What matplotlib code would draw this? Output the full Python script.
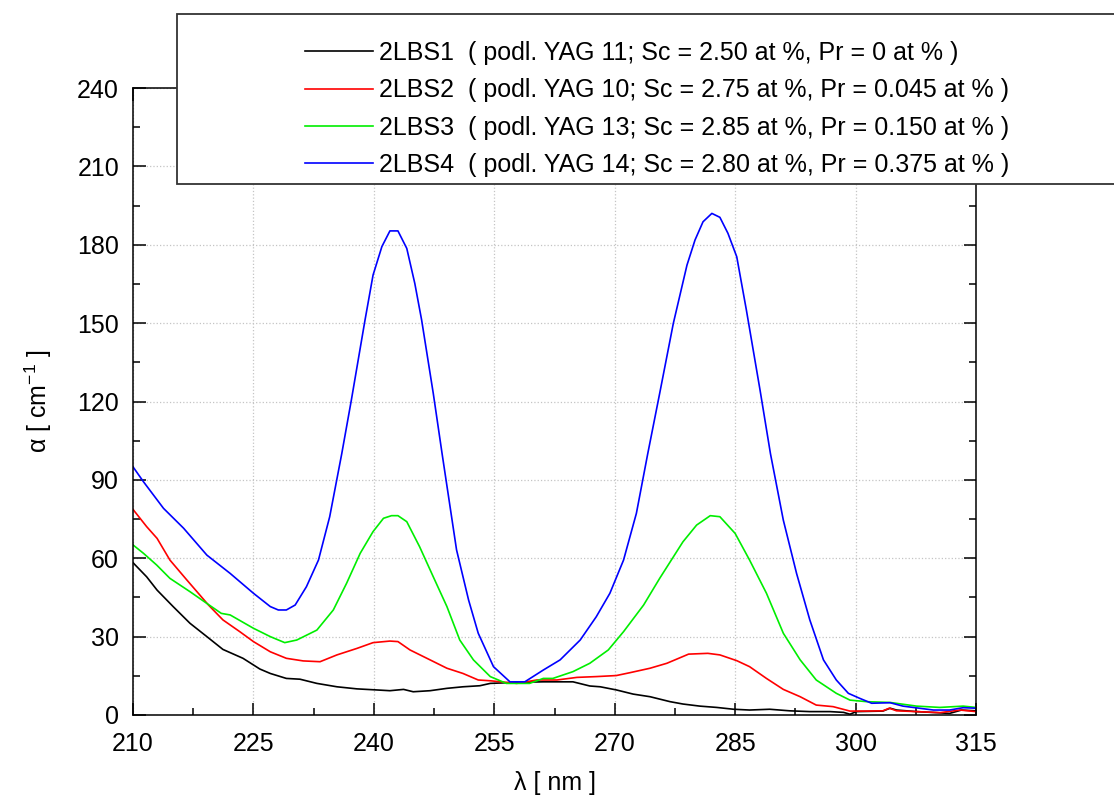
import matplotlib
matplotlib.use("Agg")
import matplotlib.pyplot as plt
from matplotlib.patches import Rectangle
from matplotlib.ticker import MultipleLocator

plt.rcParams['font.family'] = ['Liberation Sans', 'DejaVu Sans']
plt.rcParams['mathtext.default'] = 'regular'

# 2LBS1
x1 = [210, 211.7, 213, 215, 217.1, 219.2, 221.2, 223.7, 225.8, 227.1, 229.1, 230.8, 232.9, 235.4,
      237.9, 240.3, 242, 243.7, 244.9, 247, 249.1, 251.1, 253.2, 254.5, 257.8, 261.1, 264.8, 266.9,
      268.2, 270.2, 272.3, 274.4, 276.9, 278.5, 280.6, 282.7, 284.8, 286.8, 289.3, 291.8, 294.3,
      296.8, 298.5, 299.3, 300.1, 303.4, 304.3, 305.1, 307.6, 310.1, 311.7, 313.2, 315]
y1 = [58.3, 52.9, 47.8, 41.5, 35.1, 30, 25.1, 21.7, 17.6, 15.9, 14, 13.7, 12.1, 10.8,
      10, 9.6, 9.3, 9.8, 8.9, 9.3, 10.2, 10.8, 11.2, 12.1, 12.5, 12.7, 12.7, 11.1,
      10.8, 9.6, 8, 7, 5.1, 4.2, 3.4, 2.9, 2.2, 1.9, 2.2, 1.6, 1.3,
      1.3, 1, 0.3, 1.3, 1.5, 2.6, 1.9, 1.3, 0.9, 0.6, 1.9, 1.6]

# 2LBS2
x2 = [210, 211.7, 213, 214.6, 216.7, 219.4, 221.2, 223.3, 225, 227.1, 229.1, 231.2, 233.3, 235.4,
      237.9, 239.9, 242, 243, 244.5, 247, 249.1, 251.1, 253, 254.5, 257.8, 260.3, 262.8, 265.3,
      267.7, 270.2, 271.9, 274.4, 276.5, 279.2, 281.6, 283.1, 285.2, 286.8, 288.9, 291, 293.1,
      295.1, 297.2, 299.3, 301.4, 303.4, 304.2, 305.1, 307.6, 310.5, 313, 315]
y2 = [78.7, 72.1, 67.6, 59.3, 51.7, 42.1, 36.4, 31.9, 28.1, 24.2, 21.7, 20.7, 20.4, 23,
      25.5, 27.7, 28.3, 28.1, 24.9, 21.1, 17.9, 15.9, 13.4, 13.1, 12.1, 13.4, 13.4, 14.4,
      14.7, 15.1, 16.2, 17.9, 19.8, 23.3, 23.6, 23, 20.8, 18.5, 14, 9.8, 7,
      3.8, 3.2, 1.5, 1.5, 1.6, 2.6, 1.6, 1.3, 0.9, 1.9, 1.3]

# 2LBS3
x3 = [210, 211.3, 212.95, 214.6, 217.1, 219.2, 221, 222.1, 225, 227.1, 228.9, 230.4, 232.9, 234.95,
      236.6, 238.3, 239.9, 241.2, 242.2, 243, 244.1, 245.7, 247.4, 249.1, 250.7, 252.4, 254.5,
      256.5, 259.4, 261.1, 262.3, 264.8, 266.9, 269.2, 271.1, 273.6, 275.6, 278.5, 280.2, 281.9,
      283.1, 285, 286.8, 288.9, 291, 293.1, 295.1, 297.6, 299.3, 301.4, 304.3, 307.6, 310.5, 313.4, 315]
y3 = [65.1, 61.9, 57.4, 52.3, 47.2, 42.7, 38.9, 38.3, 33.2, 30, 27.7, 28.7, 32.5, 40.2,
      50.4, 61.9, 70.2, 75.3, 76.3, 76.3, 74, 64.4, 52.9, 41.5, 28.7, 21.1, 14.7,
      12.1, 12.1, 14, 14, 16.6, 19.8, 24.9, 31.9, 42.1, 52.3, 66.3, 72.7, 76.3,
      75.9, 69.5, 59.3, 46.6, 31.3, 21.1, 13.4, 8.3, 5.7, 5.1, 4.8, 3.4, 2.9, 3.4, 2.9]

# 2LBS4
x4 = [210, 211.3, 213.8, 216.3, 219.2, 222.1, 225, 227.1, 228.1, 229.1, 230.2, 231.6, 233.1, 234.5,
      236, 237.2, 238.9, 239.9, 241, 242, 243, 244.1, 245.1, 245.95, 247.4, 248.5, 250.3, 251.8,
      253, 254.9, 256.95, 258.8, 261.1, 263.2, 265.7, 267.7, 269.4, 271.1, 272.7, 274.1, 275.6,
      277.3, 279, 280, 281, 282.1, 283.1, 284.1, 285.2, 286.4, 288.1, 289.4, 291, 292.65, 294.3,
      296, 297.6, 299.1, 300.5, 302, 304.3, 305.9, 309.7, 311.7, 313.4, 315]
y4 = [95, 89.3, 79.1, 71.5, 61.2, 54.2, 46.6, 41.5, 40.2, 40.2, 42.1, 49.1, 59.3, 75.9,
      100, 120.6, 151.2, 168.4, 179.3, 185.3, 185.3, 178.6, 165.2, 151.2, 123.1, 100, 63.2, 44,
      31.3, 18.5, 12.7, 12.7, 17.2, 21.1, 28.7, 37.6, 46.6, 59.3, 77.2, 99.8, 123.1,
      149.9, 172.2, 181.8, 188.8, 192, 190.5, 184.4, 175.4, 155, 124.4, 100, 74.6, 54.2, 36.4,
      21.1, 13.4, 8.3, 6.4, 4.5, 4.7, 3.4, 1.9, 1.9, 2.8, 2.6]

labels = ["2LBS1  ( podl. YAG 11; Sc = 2.50 at %, Pr = 0 at % )",
          "2LBS2  ( podl. YAG 10; Sc = 2.75 at %, Pr = 0.045 at % )",
          "2LBS3  ( podl. YAG 13; Sc = 2.85 at %, Pr = 0.150 at % )",
          "2LBS4  ( podl. YAG 14; Sc = 2.80 at %, Pr = 0.375 at % )"]
colors = ['#000000', '#ff0000', '#00ee00', '#0000ff']

fig = plt.figure(figsize=(11.14, 7.99), dpi=100)
ax = fig.add_axes([133/1114, 1-715/799, (976-133)/1114, (715-88)/799])

for xs, ys, c, lab in zip([x1, x2, x3, x4], [y1, y2, y3, y4], colors, labels):
    ax.plot(xs, ys, color=c, lw=1.2, label=lab)

ax.set_xlim(210, 315)
ax.set_ylim(0, 240)
ax.xaxis.set_major_locator(MultipleLocator(15))
ax.xaxis.set_minor_locator(MultipleLocator(7.5))
ax.yaxis.set_major_locator(MultipleLocator(30))
ax.yaxis.set_minor_locator(MultipleLocator(15))
ax.tick_params(which='both', direction='in', top=True, right=True, width=1.1, labelsize=18)
ax.tick_params(which='major', length=9)
ax.tick_params(which='minor', length=5)
ax.tick_params(axis='x', pad=12)
ax.tick_params(axis='y', pad=10)
ax.grid(True, which='major', linestyle=':', color='#c4c4c4', lw=0.9)
for s in ax.spines.values():
    s.set_linewidth(1.1)

ax.set_xlabel("λ [ nm ]", fontsize=18, labelpad=11)
ax.set_ylabel("α [ cm$^{-1}$ ]", fontsize=18, labelpad=17)

# legend box
fig.add_artist(Rectangle((177/1114, 1-184/799), 1000/1114, 170/799, transform=fig.transFigure,
                         facecolor='white', edgecolor='#333333', lw=1.3, zorder=5))
leg = fig.legend(loc='upper left', bbox_to_anchor=(305/1114, 1-41/799), frameon=False,
                 handlelength=2.7, handletextpad=0.25, labelspacing=0.53,
                 borderpad=0, borderaxespad=0,
                 prop={'family': ['Liberation Sans Narrow', 'Liberation Sans'], 'size': 18})
leg.set_zorder(6)

fig.savefig("out.png", dpi=100)
